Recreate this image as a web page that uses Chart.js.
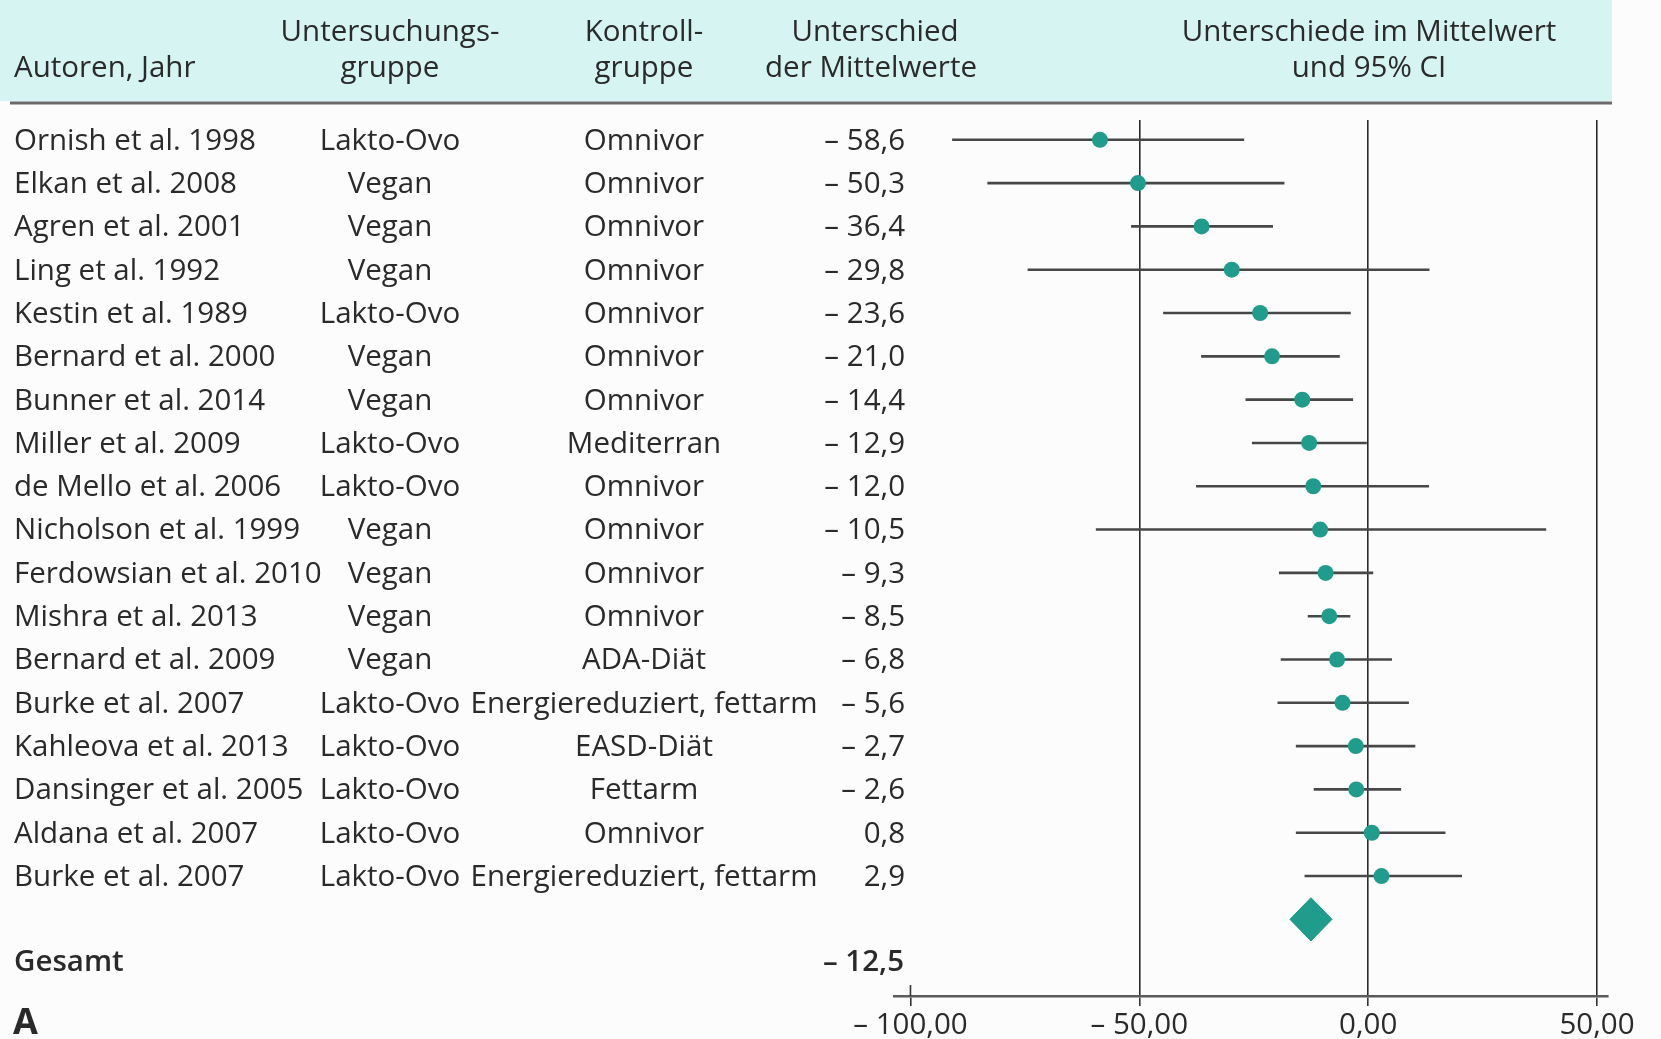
<!DOCTYPE html>
<html lang="de">
<head>
<meta charset="utf-8">
<title>Forest-Plot: Unterschiede im Mittelwert</title>
<script src="https://cdn.jsdelivr.net/npm/chart.js@4/dist/chart.umd.min.js"></script>
<style>
  html, body { margin: 0; padding: 0; background: #fcfcfc; }
  #wrap { width: 1661px; height: 1039px; position: relative; }
</style>
</head>
<body>
<div id="wrap"><canvas id="forest" width="1661" height="1039"></canvas></div>
<script>
// Studien (Zeilen von oben nach unten)
const authors = [
  "Ornish et al. 1998", "Elkan et al. 2008", "Agren et al. 2001", "Ling et al. 1992",
  "Kestin et al. 1989", "Bernard et al. 2000", "Bunner et al. 2014", "Miller et al. 2009",
  "de Mello et al. 2006", "Nicholson et al. 1999", "Ferdowsian et al. 2010", "Mishra et al. 2013",
  "Bernard et al. 2009", "Burke et al. 2007", "Kahleova et al. 2013", "Dansinger et al. 2005",
  "Aldana et al. 2007", "Burke et al. 2007"
];
const studyGroups = [
  "Lakto-Ovo", "Vegan", "Vegan", "Vegan", "Lakto-Ovo", "Vegan", "Vegan", "Lakto-Ovo",
  "Lakto-Ovo", "Vegan", "Vegan", "Vegan", "Vegan", "Lakto-Ovo", "Lakto-Ovo", "Lakto-Ovo",
  "Lakto-Ovo", "Lakto-Ovo"
];
const controlGroups = [
  "Omnivor", "Omnivor", "Omnivor", "Omnivor", "Omnivor", "Omnivor", "Omnivor", "Mediterran",
  "Omnivor", "Omnivor", "Omnivor", "Omnivor", "ADA-Diät", "Energiereduziert, fettarm",
  "EASD-Diät", "Fettarm", "Omnivor", "Energiereduziert, fettarm"
];
// Unterschied der Mittelwerte und 95%-Konfidenzintervall
const meanDiff = [-58.6, -50.3, -36.4, -29.8, -23.6, -21.0, -14.4, -12.9, -12.0, -10.5, -9.3, -8.5, -6.8, -5.6, -2.7, -2.6, 0.8, 2.9];
const ciLower  = [-90.9, -83.2, -51.8, -74.4, -44.8, -36.5, -26.8, -25.4, -37.6, -59.5, -19.5, -13.2, -19.1, -19.8, -15.8, -11.9, -15.8, -13.9];
const ciUpper  = [-27.1, -18.3, -20.8, 13.4, -3.8, -6.2, -3.3, -0.3, 13.3, 38.9, 1.1, -3.9, 5.2, 8.9, 10.3, 7.2, 16.9, 20.5];
// Gepoolter Effekt
const pooledLabel = "Gesamt";
const pooledMean = -12.5;
const pooledLower = -17.1;
const pooledUpper = -7.9;
// Achse
const axisTicks = [-100, -50, 0, 50];
const panelLetter = "A";

const FONT = '"Open Sans", "DejaVu Sans", sans-serif';
const FSIZE = 29.5;
const TEXT = '#2a2a2a';
const TEAL = '#1f9c8b';

const fmt = (v, digits) => {
  const s = Math.abs(v).toFixed(digits).replace('.', ',');
  return v < 0 ? '\u2013 ' + s : s;
};

const pooledRow = authors.length;      // Zeile der Raute
const totalRow = authors.length + 1;   // Zeile "Gesamt"

// Horizontale Linien der Konfidenzintervalle, je Studie ein Datensatz
const ciSets = meanDiff.map((m, i) => ({
  type: 'line',
  data: [{ x: ciLower[i], y: i }, { x: ciUpper[i], y: i }],
  borderColor: '#474747',
  borderWidth: 2.6,
  pointRadius: 0,
  fill: false,
  order: 2
}));

const pointSet = {
  type: 'scatter',
  data: meanDiff.map((m, i) => ({ x: m, y: i })),
  backgroundColor: TEAL,
  borderColor: TEAL,
  borderWidth: 0,
  pointRadius: 8,
  order: 1
};

const diamondSet = {
  type: 'line',
  data: [
    { x: pooledLower, y: pooledRow },
    { x: pooledMean, y: pooledRow - 0.5 },
    { x: pooledUpper, y: pooledRow },
    { x: pooledMean, y: pooledRow + 0.5 },
    { x: pooledLower, y: pooledRow }
  ],
  borderColor: '#1d9a88',
  backgroundColor: '#1f9c8b',
  borderWidth: 1,
  pointRadius: 0,
  fill: 'shape',
  tension: 0,
  order: 1
};

// Tabellenspalten, Kopfzeile und Beschriftungen
const tablePlugin = {
  id: 'forestTable',
  beforeDraw(chart) {
    const ctx = chart.ctx;
    ctx.save();
    ctx.fillStyle = '#fcfcfc';
    ctx.fillRect(0, 0, chart.width, chart.height);
    // Kopfband
    ctx.fillStyle = '#d6f5f2';
    ctx.fillRect(0, 0, 1612, 101);
    ctx.strokeStyle = '#6a6a6a';
    ctx.lineWidth = 3;
    ctx.beginPath();
    ctx.moveTo(10, 103);
    ctx.lineTo(1612, 103);
    ctx.stroke();

    ctx.fillStyle = TEXT;
    ctx.font = FSIZE + 'px ' + FONT;
    ctx.textBaseline = 'middle';
    ctx.textAlign = 'left';
    ctx.fillText('Autoren, Jahr', 14, 69);
    ctx.textAlign = 'center';
    ctx.fillText('Untersuchungs-', 390, 33);
    ctx.fillText('gruppe', 390, 69);
    ctx.fillText('Kontroll-', 644, 33);
    ctx.fillText('gruppe', 644, 69);
    ctx.fillText('Unterschied', 875, 33);
    ctx.fillText('der Mittelwerte', 871, 69);
    ctx.fillText('Unterschiede im Mittelwert', 1369, 33);
    ctx.fillText('und 95% CI', 1369, 69);
    ctx.restore();
  },
  afterDraw(chart) {
    const ctx = chart.ctx;
    const ys = chart.scales.y;
    const xs = chart.scales.x;
    ctx.save();
    ctx.fillStyle = TEXT;
    ctx.textBaseline = 'middle';
    ctx.font = FSIZE + 'px ' + FONT;
    authors.forEach((a, i) => {
      const y = ys.getPixelForValue(i) + 1.5;
      ctx.textAlign = 'left';
      ctx.fillText(a, 14, y);
      ctx.textAlign = 'center';
      ctx.fillText(studyGroups[i], 390, y);
      ctx.fillText(controlGroups[i], 644, y);
      ctx.textAlign = 'right';
      ctx.fillText(fmt(meanDiff[i], 1), 905, y);
    });
    const yt = ys.getPixelForValue(totalRow);
    ctx.font = '600 ' + FSIZE + 'px ' + FONT;
    ctx.textAlign = 'left';
    ctx.fillText(pooledLabel, 14, yt);
    ctx.textAlign = 'right';
    ctx.fillText(fmt(pooledMean, 1), 904, yt);
    ctx.font = '700 36px ' + FONT;
    ctx.textAlign = 'left';
    ctx.fillText(panelLetter, 13, ys.getPixelForValue(totalRow + 1.4));

    // Teilstrich bei -100 kreuzt die Achse
    const x100 = xs.getPixelForValue(axisTicks[0]);
    ctx.strokeStyle = '#333';
    ctx.lineWidth = 1.6;
    ctx.beginPath();
    ctx.moveTo(x100, xs.top - 11);
    ctx.lineTo(x100, xs.top);
    ctx.stroke();
    ctx.restore();
  }
};

new Chart(document.getElementById('forest'), {
  data: { datasets: [...ciSets, diamondSet, pointSet] },
  options: {
    responsive: false,
    animation: false,
    events: [],
    layout: { padding: { left: 894, right: 53, top: 120, bottom: 0 } },
    plugins: { legend: { display: false }, tooltip: { enabled: false } },
    scales: {
      x: {
        type: 'linear',
        min: -103.6,
        max: 52.4,
        afterBuildTicks: (s) => { s.ticks = axisTicks.map(v => ({ value: v })); },
        afterFit: (s) => { s.height = 43; },
        border: { display: true, color: '#5a5a5a', width: 2.5 },
        grid: {
          drawOnChartArea: true,
          drawTicks: true,
          tickLength: 10,
          color: (c) => (c.tick && c.tick.value === axisTicks[0]) ? 'rgba(0,0,0,0)' : '#2a2a2a',
          tickColor: '#333',
          lineWidth: 1.6
        },
        ticks: {
          padding: 2,
          color: TEXT,
          font: { family: FONT, size: FSIZE },
          callback: (v) => fmt(v, 2)
        }
      },
      y: {
        type: 'linear',
        reverse: true,
        min: -0.457,
        max: 19.77,
        display: false
      }
    }
  },
  plugins: [tablePlugin]
});
</script>
</body>
</html>
